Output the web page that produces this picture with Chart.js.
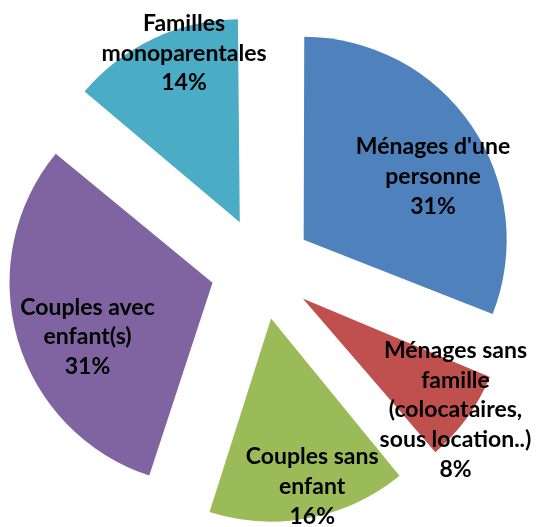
<!DOCTYPE html>
<html>
<head>
<meta charset="utf-8">
<script src="https://cdn.jsdelivr.net/npm/chart.js@4.4.1/dist/chart.umd.min.js"></script>
<style>
  html, body { margin: 0; padding: 0; background: #fff; }
  #Chart { display: block; }
</style>
</head>
<body>
<canvas id="Chart" width="536" height="527"></canvas>
<script>
// Catégories (une ligne par élément du tableau)
var categories = [
    ["Ménages d'une", "personne"],
    ["Ménages sans", "famille", "(colocataires,", "sous location..)"],
    ["Couples sans", "enfant"],
    ["Couples avec", "enfant(s)"],
    ["Familles", "monoparentales"]
];

// Répartition en %
var values = [31, 8, 16, 31, 14];

var colors = ['#4F81BD', '#C0504D', '#9BBB59', '#8064A2', '#4BACC6'];

// Placement des étiquettes : fraction du rayon et décalage angulaire (degrés)
var labelDist = [0.71, 0.93, 0.85, 0.67, 0.88];
var labelShift = [8, 0, -3, -7, 7];

var RADIUS = 203;
var EXPLODE = 204; // Chart.js translate = offset / 4

// Chart.js agrandit un peu le rayon des parts décalées, on compense
var keepRadius = {
    id: 'keepRadius',
    beforeDatasetsDraw: function (chart) {
        var meta = chart.getDatasetMeta(0);
        meta.data.forEach(function (arc) {
            var o = (arc.options.offset || 0) / 4;
            var fix = 1 - Math.sin(Math.min(Math.PI, arc.circumference));
            arc.outerRadius = RADIUS - o * fix;
        });
    }
};

var sliceLabels = {
    id: 'sliceLabels',
    afterDatasetsDraw: function (chart) {
        var ctx = chart.ctx;
        var meta = chart.getDatasetMeta(0);
        var total = values.reduce(function (a, b) { return a + b; }, 0);
        var lineH = 29.7;
        ctx.save();
        ctx.font = 'bold 23px Lato';
        ctx.fillStyle = '#000';
        ctx.textAlign = 'center';
        ctx.textBaseline = 'alphabetic';
        meta.data.forEach(function (arc, i) {
            var mid = (arc.startAngle + arc.endAngle) / 2;
            var o = (arc.options.offset || 0) / 4;
            var ax = arc.x + Math.cos(mid) * o;
            var ay = arc.y + Math.sin(mid) * o;
            var a = mid + labelShift[i] * Math.PI / 180;
            var cx = ax + Math.cos(a) * labelDist[i] * RADIUS;
            var cy = ay + Math.sin(a) * labelDist[i] * RADIUS;
            var lines = categories[i].concat([Math.round(values[i] / total * 100) + '%']);
            var n = lines.length;
            lines.forEach(function (t, k) {
                ctx.fillText(t, cx, cy + 8 + (k - (n - 1) / 2) * lineH);
            });
        });
        ctx.restore();
    }
};

var context = document.getElementById('Chart').getContext('2d');

var myChart = new Chart(context, {
    type: 'pie',
    data: {
        labels: categories,
        datasets: [{
            data: values,
            backgroundColor: colors,
            borderWidth: 0,
            offset: EXPLODE,
            hoverOffset: 0,
            radius: RADIUS
        }]
    },
    options: {
        responsive: false,
        animation: false,
        events: [],
        layout: {
            padding: { left: 0, right: 13, top: 10, bottom: 0 }
        },
        plugins: {
            legend: { display: false },
            tooltip: { enabled: false }
        }
    },
    plugins: [keepRadius, sliceLabels]
});
</script>
</body>
</html>
